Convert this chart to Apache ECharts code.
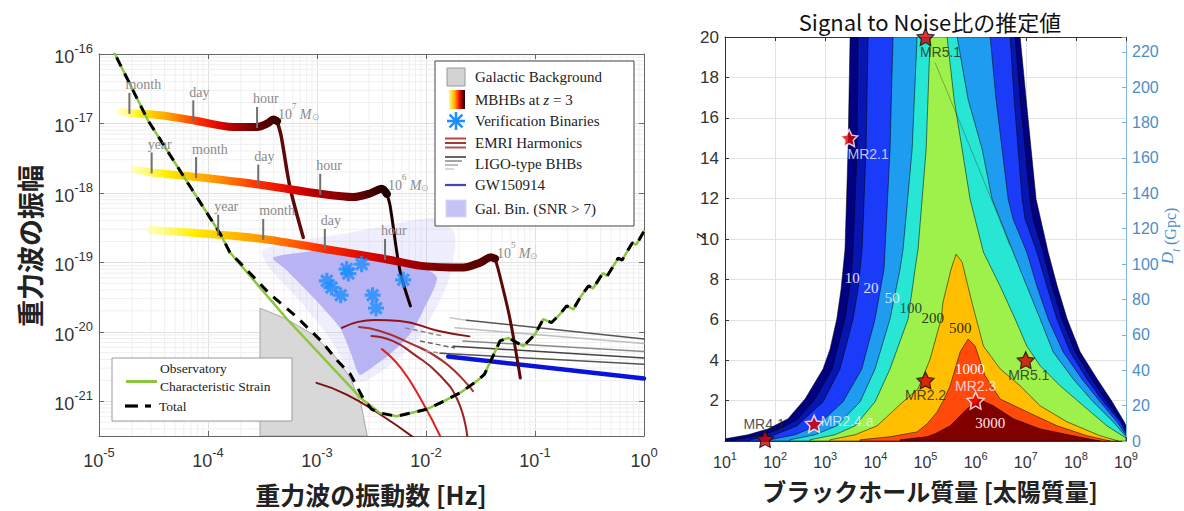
<!DOCTYPE html>
<html><head><meta charset="utf-8">
<script src="https://cdn.jsdelivr.net/npm/echarts@6/dist/echarts.min.js"></script>
<style>html,body{margin:0;padding:0;background:#fff}#c{width:1184px;height:511px}</style>
</head><body><div id="c"></div>
<script>
// ================= LEFT PANEL DATA (frequency [Hz], characteristic strain) =================
const freqDecades = [1e-5, 1e-4, 1e-3, 1e-2, 1e-1];
const strainDecades = [1e-22, 1e-21, 1e-20, 1e-19, 1e-18, 1e-17];
const minorMultipliers = [2, 3, 4, 5, 6, 7, 8, 9];

const sensitivityCurve = [[1.2e-5,1.5e-16],[1.40e-5,1.0e-16],[2.81e-5,1.11e-17],[1.29e-4,2.6e-19],[1.59e-4,1.39e-19],
  [5.3e-4,1.53e-20],[2.54e-3,1.10e-21],[3.78e-3,6.8e-22],[5.38e-3,6.07e-22],[9.93e-3,7.6e-22],[1.34e-2,9.4e-22],
  [2.05e-2,1.32e-21],[2.92e-2,1.95e-21],[3.43e-2,2.43e-21],[4.78e-2,7.4e-21],[5.69e-2,8.2e-21],[7.81e-2,6.2e-21],
  [0.100,9.2e-21],[0.119,1.52e-20],[0.142,1.36e-20],[0.169,1.79e-20],[0.195,2.36e-20],[0.225,2.11e-20],[0.259,3.11e-20],
  [0.31,4.6e-20],[0.34,4.2e-20],[0.42,7.0e-20],[0.46,6.4e-20],[0.58,1.15e-19],[0.63,1.08e-19],[0.78,1.9e-19],[0.85,1.8e-19],[1.0,2.8e-19]];
const galacticExcess = [[2.0e-4,9.6e-20],[3.71e-4,3.48e-20],[6.35e-4,1.70e-20],[1.09e-3,7.4e-21],[1.55e-3,3.8e-21],
  [2.02e-3,2.46e-21],[2.64e-3,1.12e-21],[3.16e-3,7.7e-22]];

const galacticBackground = [[3.0e-4,3.1623e-22],[3.0e-4,2.19e-20],[5.31e-4,1.52e-20],[9.08e-4,9.2e-21],[1.42e-3,4.73e-21],
  [2.02e-3,2.17e-21],[2.54e-3,8.95e-22],[2.89e-3,3.1623e-22]];

const galBinaryHalo = [[3.13e-4,1.47e-19],[6.98e-4,2.05e-19],[2.01e-3,2.68e-19],[5.77e-3,3.73e-19],[1.34e-2,4.27e-19],
  [1.85e-2,2.42e-19],[1.66e-2,6.4e-20],[1.34e-2,2.79e-20],[8.81e-3,8.7e-21],[5.2e-3,3.78e-21],[2.75e-3,1.95e-21],
  [2.01e-3,2.1e-21],[1.46e-3,6.24e-21],[6.98e-4,2.79e-20],[3.71e-4,8.09e-20]];
const galBinaryCore = [[3.94e-4,1.16e-19],[6.98e-4,1.38e-19],[1.315e-3,1.52e-19],[2.01e-3,1.47e-19],[3.40e-3,1.29e-19],
  [5.77e-3,1.13e-19],[8.81e-3,8.93e-20],[1.26e-2,5.99e-20],[9.38e-3,2.0e-20],[7.13e-3,9.3e-21],[4.68e-3,4.78e-21],
  [2.88e-3,2.72e-21],[2.48e-3,2.38e-21],[2.33e-3,2.72e-21],[2.01e-3,5.28e-21],[1.625e-3,1.14e-20],[1.135e-3,2.21e-20],
  [6.98e-4,4.91e-20],[5.08e-4,8.09e-20]];

const verificationBinaries = [[1.87e-3,8.0e-20],[2.57e-3,9.4e-20],[1.94e-3,6.9e-20],[1.23e-3,5.42e-20],[1.36e-3,4.34e-20],
  [1.65e-3,3.37e-20],[3.24e-3,3.37e-20],[3.48e-3,2.19e-20],[6.19e-3,5.61e-20]];

const emriHarmonic1 = [[1.69e-3,1.14e-20],[2.38e-3,1.39e-20],[3.40e-3,1.48e-20],[5.77e-3,1.43e-20],[1.31e-2,1.03e-20],[2.5e-2,8.6e-21]];
const emriHarmonic2 = [[2.43e-3,1.17e-20],[3.78e-3,1.03e-20],[6.41e-3,7.4e-21],[1.43e-2,3.78e-21],[2.70e-2,1.40e-21]];
const emriHarmonic3 = [[3.16e-3,8.7e-21],[4.94e-3,7.4e-21],[7.71e-3,4.78e-21],[1.31e-2,2.45e-21],[1.97e-2,1.0e-21],[2.4e-2,3.0e-22]];
const emriHarmonic4 = [[3.94e-3,5.64e-21],[5.90e-3,3.0e-21],[9.18e-3,1.0e-21],[1.37e-2,3.0e-22]];
const emriHarmonic5 = [[9.9e-4,1.84e-21],[1.85e-3,1.26e-21],[3.78e-3,6.5e-22],[7.71e-3,3.0e-22]];

const ligoBHB1 = [[2.36e-2,1.47e-20],[1.0,7.9e-21]];
const ligoBHB1Lead = [[1.66e-2,1.60e-20],[2.36e-2,1.47e-20]];
const ligoBHB2 = [[1.85e-2,1.14e-20],[1.0,6.8e-21]];
const ligoBHB3 = [[2.18e-2,7.4e-21],[1.0,5.2e-21]];
const ligoBHB4 = [[1.77e-2,6.2e-21],[1.0,4.2e-21]];
const ligoBHB5 = [[1.34e-2,4.9e-21],[1.0,3.4e-21]];
const ligoFragment1 = [[6.41e-3,1.14e-20],[1.43e-2,8.7e-21]];
const ligoFragment2 = [[8.81e-3,7.4e-21],[1.85e-2,5.83e-21]];
const ligoFragment3 = [[9.8e-3,5.28e-21],[1.66e-2,4.78e-21]];
const gw150914 = [[1.60e-2,4.4e-21],[1.0,2.13e-21]];

const mbhb7Inspiral = [[1.62e-5,1.47e-17],[1.90e-5,1.42e-17],[3.63e-5,1.31e-17],[7.33e-5,1.11e-17],[1.71e-4,8.9e-18],
  [2.82e-4,8.9e-18],[3.55e-4,1.01e-17],[3.97e-4,1.14e-17],[4.30e-4,1.08e-17]];
const mbhb7Merger = [[4.30e-4,1.08e-17],[4.68e-4,6.7e-18],[5.65e-4,1.21e-18],[7.48e-4,2.29e-19]];
const mbhb6Inspiral = [[2.14e-5,2.16e-18],[3.04e-5,1.97e-18],[7.87e-5,1.69e-18],[2.89e-4,1.32e-18],[1.07e-3,9.7e-19],
  [2.15e-3,8.7e-19],[3.06e-3,9.8e-19],[3.93e-3,1.15e-18],[4.37e-3,9.7e-19]];
const mbhb6Merger = [[4.37e-3,9.7e-19],[4.68e-3,6.6e-19],[5.77e-3,7.6e-20],[7.2e-3,2.36e-20]];
const mbhb5Inspiral = [[3.04e-5,2.93e-19],[1.24e-4,2.5e-19],[3.21e-4,2.17e-19],[1.18e-3,1.56e-19],[4.2e-3,1.12e-19],
  [9.0e-3,8.9e-20],[2.2e-2,8.4e-20],[3.13e-2,9.9e-20],[3.93e-2,1.18e-19],[4.30e-2,1.13e-19]];
const mbhb5Merger = [[4.30e-2,1.13e-19],[4.58e-2,8.1e-20],[5.86e-2,1.6e-20],[7.33e-2,2.17e-21]];

const timeMarkPoints = [[1.90e-5,1.42e-17],[7.33e-5,1.11e-17],[2.82e-4,8.9e-18],
  [3.04e-5,1.97e-18],[7.77e-5,1.69e-18],[2.89e-4,1.32e-18],[1.07e-3,9.7e-19],
  [1.24e-4,2.5e-19],[3.21e-4,2.17e-19],[1.18e-3,1.56e-19],[4.21e-3,1.12e-19]];
const timeMarkLabels = ['month','day','hour','year','month','day','hour','year','month','day','hour'];
const massLabelPoints = [[4.39e-4,1.47e-17],[4.48e-3,1.43e-18],[4.48e-2,1.47e-19]];
const massLabelExponents = ['7','6','5'];

// ================= RIGHT PANEL DATA (black hole mass [Msun], redshift z) =================
const snrLevelLabels = ['10','20','50','100','200','500','1000','3000'];
const snrLabelPoints = [[3.47e3,8.05],[8.2e3,7.55],[2.18e4,7.06],[5.09e4,6.57],[1.40e5,6.07],[4.91e5,5.58],[7.76e5,3.57],[1.95e6,0.90]];
const snrOuter = [[3.13e3,20],[2.85e3,14.44],[2.48e3,9.50],[2.07e3,7.52],[1.70e3,6.04],[1.25e3,4.56],[904,3.57],[395,2.08],
  [181,1.10],[72,0.60],[28.8,0.31],[10,0.11],[10,0],
  [1e9,0],[1e9,0.77],[9.2e8,0.95],[5.31e8,1.94],[2.66e8,3.07],[1.22e8,4.41],[6.70e7,6.04],[4.24e7,7.67],[2.80e7,9.35],
  [1.61e7,11.97],[1.28e7,14.44],[1.02e7,16.91],[7.73e6,20]];
const snrLv10 = [[4.52e3,20],[4.32e3,14.44],[3.59e3,9.50],[3.27e3,8.06],[2.48e3,6.04],[1.37e3,3.57],[625,2.08],[286,1.10],
  [125,0.60],[50,0.26],[15.8,0.06],[15.8,0],
  [1e9,0],[1e9,0.55],[8.28e8,0.95],[4.16e8,1.94],[2.08e8,3.07],[9.68e7,4.41],[5.26e7,6.04],[3.32e7,7.67],[2.22e7,9.35],
  [1.41e7,10.98],[1.22e7,11.97],[7.73e6,16.91],[6.14e6,20]];
const snrLv20 = [[7.14e3,20],[6.52e3,14.44],[5.43e3,9.50],[4.52e3,7.52],[3.59e3,6.04],[1.97e3,3.57],[904,1.94],[274,0.75],
  [100,0.31],[31.6,0.06],[31.6,0],
  [1e9,0],[1e9,0.40],[7.66e8,0.95],[3.56e8,1.94],[1.66e8,3.07],[7.69e7,4.41],[4.18e7,6.04],[2.64e7,7.67],[1.67e7,9.35],
  [9.73e6,10.98],[8.47e6,11.97],[5.86e6,16.91],[4.89e6,20]];
const snrLv50 = [[2.25e4,20],[1.96e4,14.44],[1.56e4,9.50],[1.49e4,8.51],[9.86e3,6.04],[5.36e3,3.57],[2.26e3,1.94],[676,0.75],
  [249,0.31],[79,0.06],[79,0],
  [1e9,0],[1e9,0.30],[6.59e8,0.95],[3.05e8,1.94],[1.32e8,3.07],[5.58e7,4.41],[2.80e7,6.04],[1.67e7,7.67],[1.05e7,9.35],
  [5.61e6,10.98],[4.46e6,11.97],[2.56e6,16.91],[1.95e6,20]];
const snrLv100 = [[6.79e4,20],[5.41e4,14.44],[3.57e4,9.50],[3.11e4,8.51],[1.96e4,6.04],[9.86e3,3.57],[4.95e3,1.94],[1.70e3,0.75],
  [625,0.31],[198,0.06],[198,0],
  [1e9,0],[1e9,0.22],[5.56e8,0.95],[2.21e8,1.94],[8.83e7,3.07],[3.52e7,4.41],[1.94e7,6.04],[1.05e7,7.67],[5.61e6,9.35],
  [3.08e6,10.98],[2.13e6,11.97],[1.35e6,14.44],[7.08e5,16.91],[4.28e5,20]];
const snrLv200 = [[1.24e5,20],[1.03e5,14.44],[7.11e4,9.50],[6.19e4,8.51],[4.50e4,6.04],[1.96e4,3.57],[9.86e3,1.94],[3.94e3,0.75],
  [1.57e3,0.31],[498,0.06],[498,0],
  [1e9,0],[1e9,0.15],[4.16e8,0.75],[1.42e8,1.74],[4.86e7,2.73],[1.94e7,3.72],[1.05e7,4.70],[6.14e6,6.04],[3.08e6,7.67],
  [1.43e6,9.35],[9.77e5,10.98],[7.76e5,11.97],[5.38e5,14.44],[3.72e5,16.91],[2.70e5,20]];
const snrLv500 = [[4.08e5,9.25],[3.24e5,8.51],[2.24e5,6.88],[2.05e5,6.04],[1.24e5,4.06],[7.11e4,2.58],[3.57e4,1.94],[1.08e4,0.75],
  [3.94e3,0.31],[1.25e3,0.06],[1.25e3,0],
  [7e8,0],[3.05e8,0.26],[6.62e7,0.95],[1.94e7,1.74],[7.73e6,2.73],[3.08e6,3.57],[1.43e6,4.70],[8.39e5,6.88],[5.38e5,8.85]];
const snrLv1000 = [[7.08e5,5.05],[4.91e5,4.41],[3.90e5,3.57],[3.10e5,2.73],[2.35e5,2.08],[1.71e5,1.44],[1.08e5,0.85],[6.79e4,0.45],
  [1.96e4,0.21],[4.95e3,0.06],[4.95e3,0],
  [4.84e8,0],[1.68e8,0.26],[4.24e7,0.75],[1.07e7,1.44],[3.08e6,2.08],[1.55e6,3.22],[9.77e5,4.70]];
const snrLv3000 = [[1.23e6,2.04],[6.67e5,1.59],[3.10e5,0.75],[1.56e5,0.36],[1.06e5,0.21],[3.11e4,0.06],[3.11e4,0],
  [3.05e8,0],[8.83e7,0.26],[1.94e7,0.60],[5.68e6,1.10],[2.26e6,1.74]];
const faintTrack = [[1.55e5,18.73],[9.77e5,13.94],[4.9e6,9.64]];

const sourcesDark = [[1e5,20],[1e5,3],[1e7,4],[63,0.1]];
const sourcesDarkNames = ['MR5.1','MR2.2','MR5.1','MR4.1'];
const sourcesLight = [[3e3,15],[600,0.85],[1e6,2]];
const sourcesLightNames = ['MR2.1','MR2.4.a','MR2.3'];

// ================= STYLE / HELPERS =================
// ECharts v6 rounds axis extents below ~1e-20 to zero, so the strain axis is expressed in units of 1e-22.
const STRAIN_UNIT = 1e-22;
const S = (pts) => pts.map(p => [p[0], p[1] / STRAIN_UNIT]);
const SANS = '"Liberation Sans", Arial, sans-serif';
const SERIF = '"Liberation Serif", "DejaVu Serif", serif';
const CJK = '"Noto Sans CJK JP", sans-serif';
const ASTERISK = 'M-2,-10L2,-10L2,10L-2,10Z M-10,-2L10,-2L10,2L-10,2Z M-8.49,-5.66L-5.66,-8.49L8.49,5.66L5.66,8.49Z M5.66,-8.49L8.49,-5.66L-5.66,8.49L-8.49,5.66Z';
const STAR = 'M0,-10L2.9,-4L9.51,-3.09L4.7,1.5L5.88,8.09L0,5L-5.88,8.09L-4.7,1.5L-9.51,-3.09L-2.9,-4Z';
const contourPolys = [snrOuter, snrLv10, snrLv20, snrLv50, snrLv100, snrLv200, snrLv500, snrLv1000, snrLv3000];
const contourColors = ['#000080','#0716b0','#1a3cf8','#1e9cf0','#28e6d4','#9ef04a','#ffbf00','#ff4a0a','#800000'];
const snrLabelColors = ['#e0e0ff','#e0e0ff','#d8f0ff','#1e4e4e','#2c3a10','#3a2a00','#ffffff','#ffe8e8'];

const totalCurve = sensitivityCurve.filter(p => p[0] < 1.7e-4).concat(galacticExcess, sensitivityCurve.filter(p => p[0] > 3.5e-3));
const minorFreq = [];
freqDecades.forEach(d => minorMultipliers.forEach(m => minorFreq.push(d * m)));
const minorStrain = [];
strainDecades.forEach(d => minorMultipliers.forEach(m => { const v = d * m; if (v > 3.2e-22 && v < 1e-16) minorStrain.push(v); }));

function powLabelShift(shift) {
  return function (v) {
    const e = Math.log10(v), r = Math.round(e);
    if (Math.abs(e - r) > 1e-6) return '';
    return '{b|10}{s|' + (r + shift) + '}';
  };
}
function supRich(size, sup, lh) {
  return { b:{fontSize:size, lineHeight:lh, verticalAlign:'bottom', color:'#333', fontFamily:SANS},
           s:{fontSize:sup, lineHeight:lh, verticalAlign:'top', color:'#333', fontFamily:SANS} };
}
const trackGradient = (end) => ({type:'linear', x:0, y:0, x2:1, y2:0, colorStops:[
  {offset:0, color:'rgba(255,255,110,0.55)'},{offset:0.12, color:'#ffee00'},{offset:0.3, color:'#ffa000'},
  {offset:0.5, color:'#ff2a00'},{offset:0.66, color:'#d00000'},{offset:0.84, color:'#7a0000'},{offset:1, color:end}]});

function lineSer(data, color, width, z, extra) {
  return Object.assign({type:'line', xAxisIndex:0, yAxisIndex:0, data:S(data), showSymbol:false, symbol:'none', silent:true,
    animation:false, z, lineStyle:{color, width, cap:'round'}}, extra || {});
}
function polySer(pts, fill, stroke, z) {
  const sp = S(pts);
  return {type:'custom', xAxisIndex:0, yAxisIndex:0, silent:true, animation:false, z, clip:true, data:[sp[0]],
    renderItem:(params, api) => ({type:'polygon', shape:{points: sp.map(p => api.coord(p)), smooth:0.25},
      style:{fill, stroke, lineWidth: stroke ? 1 : 0}})};
}
const Y_REF = 1e-18 / STRAIN_UNIT;

const series = [
  {type:'custom', xAxisIndex:0, yAxisIndex:0, silent:true, animation:false, z:0, data: minorFreq.map(v => [v, Y_REF]),
    renderItem:(params, api) => { const p = api.coord([api.value(0), Y_REF]); const cs = params.coordSys;
      return {type:'line', shape:{x1:p[0], y1:cs.y, x2:p[0], y2:cs.y+cs.height}, style:{stroke:'#efefef', lineWidth:1}}; }},
  {type:'custom', xAxisIndex:0, yAxisIndex:0, silent:true, animation:false, z:0, data: minorStrain.map(v => [1e-3, v / STRAIN_UNIT]),
    renderItem:(params, api) => { const p = api.coord([1e-3, api.value(1)]); const cs = params.coordSys;
      return {type:'line', shape:{x1:cs.x, y1:p[1], x2:cs.x+cs.width, y2:p[1]}, style:{stroke:'#efefef', lineWidth:1}}; }},
  {type:'custom', xAxisIndex:0, yAxisIndex:0, silent:true, animation:false, z:1, clip:true, data:[S(galacticBackground)[0]],
    renderItem:(params, api) => ({type:'polygon', shape:{points: S(galacticBackground).map(p => api.coord(p))},
      style:{fill:'#d8d8d8', stroke:'#a8a8a8', lineWidth:1}})},
  polySer(galBinaryHalo, 'rgba(188,185,246,0.24)', null, 1),
  polySer(galBinaryCore, 'rgba(178,174,243,0.9)', null, 1),
  lineSer(emriHarmonic5, '#7a1010', 2, 3, {smooth:true}),
  lineSer(emriHarmonic1, '#8b1414', 2, 3, {smooth:true}),
  lineSer(emriHarmonic2, '#a83030', 2, 3, {smooth:true}),
  lineSer(emriHarmonic3, '#9a2222', 2, 3, {smooth:true}),
  lineSer(emriHarmonic4, '#e02020', 2, 3, {smooth:true}),
  lineSer(ligoFragment1, '#888', 1.5, 3, {lineStyle:{color:'#888', width:1.5, type:[5,3]}}),
  lineSer(ligoFragment2, '#666', 1.5, 3, {lineStyle:{color:'#666', width:1.5, type:[5,3]}}),
  lineSer(ligoFragment3, '#999', 1.5, 3, {lineStyle:{color:'#999', width:1.5, type:[5,3]}}),
  lineSer(ligoBHB1Lead, '#c8c8c8', 1.5, 3),
  lineSer(ligoBHB1, '#555', 1.5, 3),
  lineSer(ligoBHB2, '#bdbdbd', 1.5, 3),
  lineSer(ligoBHB3, '#8a8a8a', 1.5, 3),
  lineSer(ligoBHB4, '#444', 1.5, 3),
  lineSer(ligoBHB5, '#555', 1.5, 3),
  lineSer(gw150914, '#0a14d8', 4.5, 3),
  lineSer(mbhb7Merger, '#5c0a0a', 3.5, 4, {smooth:0.3}),
  lineSer(mbhb6Merger, '#1a0000', 3, 4, {smooth:0.3}),
  lineSer(mbhb5Merger, '#5a0808', 3, 4, {smooth:0.3}),
  lineSer(mbhb7Inspiral, trackGradient('#3a0000'), 8, 4, {smooth:0.3}),
  lineSer(mbhb6Inspiral, trackGradient('#200000'), 8, 4, {smooth:0.3}),
  lineSer(mbhb5Inspiral, trackGradient('#4a0000'), 8, 4, {smooth:0.3}),
  {type:'scatter', xAxisIndex:0, yAxisIndex:0, data:S(verificationBinaries), symbol:'path://'+ASTERISK, symbolSize:16,
    itemStyle:{color:'#1e8fff'}, silent:true, animation:false, z:5},
  lineSer(sensitivityCurve, '#8cc63f', 2.5, 6),
  lineSer(totalCurve, '#000', 3, 7, {lineStyle:{color:'#000', width:3, type:[10,8]}}),
  {type:'custom', xAxisIndex:0, yAxisIndex:0, silent:true, animation:false, z:8, data:S(timeMarkPoints),
    renderItem:(params, api) => { const p = api.coord([api.value(0), api.value(1)]);
      return {type:'group', children:[
        {type:'line', shape:{x1:p[0], y1:p[1]+1, x2:p[0], y2:p[1]-20}, style:{stroke:'#707070', lineWidth:2}},
        {type:'text', x:p[0]-4, y:p[1]-21, style:{text:timeMarkLabels[params.dataIndex], fill:'#8a8a8a',
          font:'14px '+SERIF, textAlign:'left', textVerticalAlign:'bottom', align:'left', verticalAlign:'bottom'}}]}; }},
  {type:'custom', xAxisIndex:0, yAxisIndex:0, silent:true, animation:false, z:8, data:S(massLabelPoints),
    renderItem:(params, api) => { const p = api.coord([api.value(0), api.value(1)]);
      return {type:'text', x:p[0], y:p[1], style:{text:'{n|10}{e|'+massLabelExponents[params.dataIndex]+'} {m|M}{o|⊙}',
        textAlign:'left', textVerticalAlign:'middle', align:'left', verticalAlign:'middle',
        rich:{n:{fontSize:14, fontFamily:SERIF, fill:'#8a8a8a', color:'#8a8a8a', lineHeight:20, verticalAlign:'bottom'},
              e:{fontSize:9, fontFamily:SERIF, fill:'#8a8a8a', color:'#8a8a8a', lineHeight:20, verticalAlign:'top'},
              m:{fontSize:14, fontFamily:SERIF, fontStyle:'italic', fill:'#8a8a8a', color:'#8a8a8a', lineHeight:20, verticalAlign:'bottom'},
              o:{fontSize:9, fontFamily:SANS, fill:'#aaa', color:'#aaa', lineHeight:16, verticalAlign:'bottom'}}}}; }},

  // ---------- right panel ----------
  {type:'custom', xAxisIndex:1, yAxisIndex:2, silent:true, animation:false, z:1, clip:true,
    data: contourPolys.map(p => p[0]),
    renderItem:(params, api) => ({type:'polygon', shape:{points: contourPolys[params.dataIndex].map(p => api.coord(p))},
      style:{fill: contourColors[params.dataIndex], stroke:'rgba(0,0,0,0.75)', lineWidth:0.7}})},
  {type:'line', xAxisIndex:1, yAxisIndex:2, data:faintTrack, smooth:true, symbol:'none', silent:true, animation:false, z:2,
    lineStyle:{color:'rgba(40,40,40,0.45)', width:0.8}},
  {type:'custom', xAxisIndex:1, yAxisIndex:2, silent:true, animation:false, z:3, data:snrLabelPoints,
    renderItem:(params, api) => { const p = api.coord([api.value(0), api.value(1)]);
      return {type:'text', x:p[0], y:p[1], style:{text:snrLevelLabels[params.dataIndex], font:'15px '+SERIF,
        fill:snrLabelColors[params.dataIndex], textAlign:'center', textVerticalAlign:'middle', align:'center', verticalAlign:'middle'}}; }},
  {type:'scatter', xAxisIndex:1, yAxisIndex:2, data:sourcesDark, symbol:'path://'+STAR, symbolSize:17, silent:true,
    animation:false, z:5, itemStyle:{color:'#d40000', borderColor:'#111', borderWidth:1.2},
    label:{show:true, formatter:(p) => sourcesDarkNames[p.dataIndex], fontFamily:SANS, fontSize:14, color:'#222'},
    labelLayout:(p) => { const o = [[15,15],[0,15],[3,15],[-1,-15]][p.dataIndex];
      return {x:p.rect.x + p.rect.width/2 + o[0], y:p.rect.y + p.rect.height/2 + o[1], align:'center', verticalAlign:'middle'}; }},
  {type:'scatter', xAxisIndex:1, yAxisIndex:2, data:sourcesLight, symbol:'path://'+STAR, symbolSize:17, silent:true,
    animation:false, z:5, itemStyle:{color:'#e00000', borderColor:'#ffffff', borderWidth:1.5},
    label:{show:true, formatter:(p) => sourcesLightNames[p.dataIndex], fontFamily:SANS, fontSize:14, color:'#eeeeff'},
    labelLayout:(p) => { const o = [[19,16],[33,-3],[0,-15]][p.dataIndex];
      return {x:p.rect.x + p.rect.width/2 + o[0], y:p.rect.y + p.rect.height/2 + o[1], align:'center', verticalAlign:'middle'}; }}
];

// ================= LEGENDS / TITLES (decorations) =================
const txtStyle = (text, font, fill, align) => ({text, font, fill, textAlign:align||'left', textVerticalAlign:'middle', align:align||'left', verticalAlign:'middle'});
const legendText = (x, y, text, font) => ({type:'text', x, y, z:101, silent:true, style:txtStyle(text, font || ('15px '+SERIF), '#222')});
const gline = (x1, y1, x2, y2, stroke, w) => ({type:'line', z:101, silent:true, shape:{x1,y1,x2,y2}, style:{stroke, lineWidth:w}});
const graphic = [
  {type:'rect', z:100, silent:true, shape:{x:435, y:61, width:199, height:165}, style:{fill:'#fff', stroke:'#444', lineWidth:1}},
  {type:'rect', z:101, silent:true, shape:{x:447, y:68, width:18, height:18}, style:{fill:'#d3d3d3', stroke:'#9a9a9a', lineWidth:1}},
  legendText(475, 77, 'Galactic Background'),
  {type:'rect', z:101, silent:true, shape:{x:449, y:90, width:16, height:19}, style:{fill:{type:'linear', x:0, y:0, x2:1, y2:0,
    colorStops:[{offset:0,color:'#ffff80'},{offset:0.35,color:'#ffb000'},{offset:0.6,color:'#ff2000'},{offset:0.8,color:'#900000'},{offset:1,color:'#100000'}]}}},
  {type:'text', x:475, y:99.5, z:101, silent:true, style:Object.assign(txtStyle('MBHBs at {i|z} = 3', '15px '+SERIF, '#222'),
    {rich:{i:{fontFamily:SERIF, fontStyle:'italic', fontSize:15, fill:'#222', color:'#222'}}})},
  gline(447, 121, 465, 121, '#1e8fff', 2.6), gline(456, 112, 456, 130, '#1e8fff', 2.6),
  gline(449.6, 114.6, 462.4, 127.4, '#1e8fff', 2.6), gline(449.6, 127.4, 462.4, 114.6, '#1e8fff', 2.6),
  legendText(475, 121, 'Verification Binaries'),
  gline(445, 138.5, 466, 138.5, '#b04848', 2), gline(445, 143, 466, 143, '#a03a3a', 2), gline(445, 147.5, 466, 147.5, '#b85050', 2),
  legendText(475, 143, 'EMRI Harmonics'),
  gline(445, 157, 466, 157, '#333', 1.5), gline(445, 161, 462, 161, '#888', 1.5), gline(445, 165, 458, 165, '#aaa', 1.5), gline(445, 169, 454, 169, '#ccc', 1.5),
  legendText(475, 164, 'LIGO-type BHBs'),
  gline(445, 185, 466, 185, '#4444c4', 2.2),
  legendText(475, 185, 'GW150914'),
  {type:'rect', z:101, silent:true, shape:{x:446, y:200, width:20, height:17}, style:{fill:'#c4c2f6', stroke:'#d8d8fa', lineWidth:1}},
  legendText(475, 208.5, 'Gal. Bin. (SNR > 7)'),
  {type:'rect', z:100, silent:true, shape:{x:112, y:358, width:180, height:63}, style:{fill:'#fff', stroke:'#9a9a9a', lineWidth:1}},
  gline(126, 381.5, 157, 381.5, '#8cc63f', 3),
  legendText(160, 368.5, 'Observatory', '13.5px '+SERIF),
  legendText(160, 386.5, 'Characteristic Strain', '13.5px '+SERIF),
  gline(125, 406, 138, 406, '#000', 3.2), gline(145, 406, 151, 406, '#000', 3.2),
  legendText(159, 406, 'Total', '13.5px '+SERIF),
  {type:'text', x:29, y:246, rotation:Math.PI/2, z:101, silent:true, style:txtStyle('重力波の振幅', 'bold 27px '+CJK, '#222', 'center')},
  {type:'text', x:371, y:494, z:101, silent:true, style:txtStyle('重力波の振動数 [Hz]', 'bold 25px '+CJK, '#222', 'center')},
  {type:'text', x:930, y:490, z:101, silent:true, style:txtStyle('ブラックホール質量 [太陽質量]', 'bold 24px '+CJK, '#222', 'center')},
  {type:'text', x:699, y:236, rotation:Math.PI/2, z:101, silent:true, style:txtStyle('z', 'italic 17px '+SERIF, '#222', 'center')},
  {type:'text', x:1170, y:236, rotation:Math.PI/2, z:101, silent:true, style:Object.assign(txtStyle('{d|D}{l|l} (Gpc)', '16px '+SERIF, '#4a8ec8', 'center'),
    {rich:{d:{fontFamily:SERIF, fontStyle:'italic', fontSize:17, fill:'#4a8ec8', color:'#4a8ec8', lineHeight:22, verticalAlign:'top'},
           l:{fontFamily:SERIF, fontStyle:'italic', fontSize:11, fill:'#4a8ec8', color:'#4a8ec8', lineHeight:22, verticalAlign:'bottom'}}})}
];

const grayAxis = {show:true, onZero:false, lineStyle:{color:'#666', width:1}};
const darkAxis = {show:true, onZero:false, lineStyle:{color:'#333', width:1}};
const Y_MIN = 3.1623e-22 / STRAIN_UNIT, Y_MAX = 1e-16 / STRAIN_UNIT;
const option = {
  backgroundColor:'#fff',
  animation:false,
  title:{text:'Signal to Noise比の推定値', left:925, top:5, textAlign:'center',
    textStyle:{fontFamily:CJK, fontSize:22, fontWeight:'normal', color:'#111'}},
  grid:[{left:99, top:54, width:545, height:382}, {left:725, top:37, width:401, height:404}],
  xAxis:[
    {type:'log', logBase:10, gridIndex:0, min:1e-5, max:1, axisLine:grayAxis,
      axisTick:{show:true, inside:true, length:5, lineStyle:{color:'#666'}},
      axisLabel:{formatter:powLabelShift(0), rich:supRich(18,13,24), margin:10, showMinLabel:true, showMaxLabel:true, hideOverlap:false},
      splitLine:{show:true, lineStyle:{color:'#e0e0e0'}}},
    {type:'log', logBase:10, gridIndex:1, min:10, max:1e9, axisLine:darkAxis,
      axisTick:{show:true, inside:true, length:4, lineStyle:{color:'#333'}},
      axisLabel:{formatter:powLabelShift(0), rich:supRich(16,11,20), margin:9, showMinLabel:true, showMaxLabel:true, hideOverlap:false},
      splitLine:{show:true, lineStyle:{color:'#e2e2e2'}}},
    {type:'log', logBase:10, gridIndex:0, min:1e-5, max:1, position:'top', axisLine:grayAxis,
      axisTick:{show:true, inside:true, length:5, lineStyle:{color:'#666'}}, axisLabel:{show:false}, splitLine:{show:false}},
    {type:'log', logBase:10, gridIndex:1, min:10, max:1e9, position:'top', axisLine:darkAxis,
      axisTick:{show:true, inside:true, length:4, lineStyle:{color:'#333'}}, axisLabel:{show:false}, splitLine:{show:false}}
  ],
  yAxis:[
    {type:'log', logBase:10, gridIndex:0, min:Y_MIN, max:Y_MAX, axisLine:grayAxis,
      axisTick:{show:true, inside:true, length:5, lineStyle:{color:'#666'}},
      axisLabel:{formatter:powLabelShift(-22), rich:supRich(18,13,24), margin:6, showMinLabel:true, showMaxLabel:true, hideOverlap:false},
      splitLine:{show:true, lineStyle:{color:'#e0e0e0'}}},
    {type:'log', logBase:10, gridIndex:0, min:Y_MIN, max:Y_MAX, position:'right', axisLine:grayAxis,
      axisTick:{show:true, inside:true, length:5, lineStyle:{color:'#666'}}, axisLabel:{show:false}, splitLine:{show:false}},
    {type:'value', gridIndex:1, min:0, max:20, interval:2, axisLine:darkAxis,
      axisTick:{show:true, inside:true, length:4, lineStyle:{color:'#333'}},
      axisLabel:{formatter:(v) => v === 0 ? '' : String(v), fontSize:17, fontFamily:SANS, color:'#333', margin:6},
      splitLine:{show:true, lineStyle:{color:'#e2e2e2'}}},
    {type:'value', gridIndex:1, min:0, max:228.4, interval:20, position:'right',
      axisLine:{show:true, onZero:false, lineStyle:{color:'#7fb2dc'}},
      axisTick:{show:true, inside:true, length:4, lineStyle:{color:'#7fb2dc'}},
      axisLabel:{formatter:(v) => (Math.abs(v % 20) < 1e-6 ? String(Math.round(v)) : ''), fontSize:16, fontFamily:SANS, color:'#4a8ec8', margin:6},
      splitLine:{show:false}}
  ],
  series: series,
  graphic: graphic
};
const chart = echarts.init(document.getElementById('c'), null, {renderer:'svg'});
chart.setOption(option);
</script></body></html>
